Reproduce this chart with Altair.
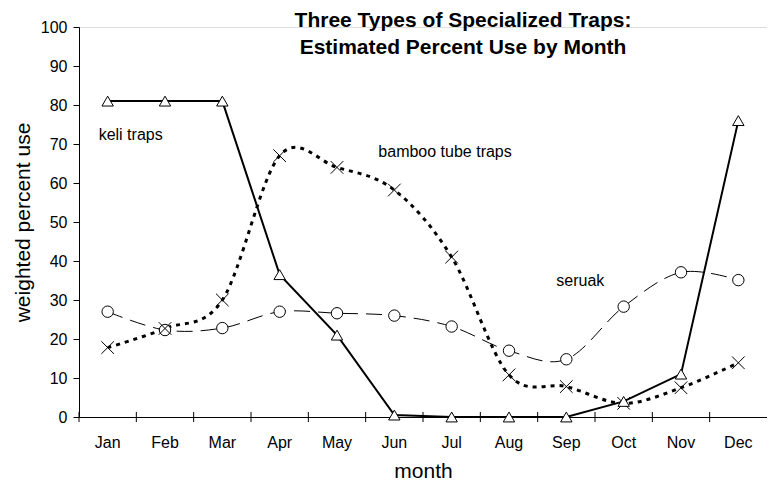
import altair as alt
import pandas as pd

months = ["Jan", "Feb", "Mar", "Apr", "May", "Jun", "Jul", "Aug", "Sep", "Oct", "Nov", "Dec"]
keli = [81, 81, 81, 36.5, 21, 0.5, 0, 0, 0, 4, 11, 76]
seruak = [27, 22.3, 22.8, 27, 26.6, 26, 23.2, 17, 14.8, 28.3, 37.1, 35.1]
bamboo = [17.8, 22.7, 30, 67, 64, 58.2, 41, 10.8, 7.8, 3.5, 7.5, 13.9]

label_text = ["keli traps", "bamboo tube traps", "seruak"]
label_month = ["Jan", "Jun", "Sep"]
label_value = [72.3, 67.9, 34.9]
label_dx = [-9, -16, -10]

y_ticks = list(range(0, 101, 10))

rows = []
for name, vals in [("keli", keli), ("seruak", seruak), ("bamboo", bamboo)]:
    for m, v in zip(months, vals):
        rows.append({"series": name, "month": m, "value": v})
long_df = pd.DataFrame(rows)
month_df = pd.DataFrame({"month": months})

FONT = "Liberation Sans"
xscale = alt.Scale(type="band", domain=months, paddingInner=0, paddingOuter=0)
yscale = alt.Scale(domain=[0, 100], nice=False)

x_axis = alt.Axis(ticks=False, labelAngle=0, labelPadding=17, labelFontSize=16,
                  titleFontSize=21, titleFontWeight="normal", titlePadding=10,
                  domainColor="black", labelColor="black", titleColor="black",
                  labelFont=FONT, titleFont=FONT, grid=False)
y_axis = alt.Axis(values=y_ticks, tickSize=6, tickColor="black", labelPadding=6,
                  labelFontSize=16, titleFontSize=21, titleFontWeight="normal",
                  titlePadding=7, domainColor="black", labelColor="black",
                  titleColor="black", labelFont=FONT, titleFont=FONT, grid=False,
                  labelOverlap=False)


def X(**kw):
    return alt.X("month:N", scale=xscale, sort=months, title="month", axis=x_axis, **kw)


def Y():
    return alt.Y("value:Q", scale=yscale, title="weighted percent use", axis=y_axis)


def series(name):
    return alt.Chart(long_df).transform_filter(alt.datum.series == name)


ticks = alt.Chart(month_df).mark_rule(color="black", strokeWidth=1).encode(
    x=X(bandPosition=0),
    y=alt.YDatum(-1.3, scale=yscale, title="weighted percent use", axis=y_axis),
    y2=alt.datum(1.3))

seruak_line = series("seruak").mark_line(
    color="black", strokeWidth=1, strokeDash=[16, 8], interpolate="cardinal", tension=0
).encode(x=X(), y=Y())
seruak_pts = series("seruak").mark_point(
    shape="circle", filled=True, fill="white", stroke="black", strokeWidth=1, size=130, opacity=1
).encode(x=X(), y=Y())

bamboo_line = series("bamboo").mark_line(
    color="black", strokeWidth=3, strokeDash=[4, 5], interpolate="cardinal", tension=0
).encode(x=X(), y=Y())
bamboo_pts = series("bamboo").mark_point(
    shape="M-1,-1L1,1M-1,1L1,-1", filled=False, stroke="black", strokeWidth=1, size=160, opacity=1
).encode(x=X(), y=Y())

keli_line = series("keli").mark_line(
    color="black", strokeWidth=2, interpolate="linear"
).encode(x=X(), y=Y())
keli_pts = series("keli").mark_point(
    shape="triangle-up", filled=True, fill="white", stroke="black", strokeWidth=1, size=130, opacity=1
).encode(x=X(), y=Y())

texts = []
for t, m, v, dx in zip(label_text, label_month, label_value, label_dx):
    texts.append(
        alt.Chart(pd.DataFrame({"text": [t], "month": [m], "value": [v]})).mark_text(
            align="left", baseline="middle", fontSize=16, font=FONT, color="black", dx=dx
        ).encode(x=X(), y=Y(), text="text:N")
    )

chart = alt.layer(
    ticks, seruak_line, bamboo_line, keli_line, seruak_pts, bamboo_pts, keli_pts, *texts
).properties(
    width=688, height=390,
    autosize=alt.AutoSizeParams(type="none"),
    padding={"left": 71, "top": 19, "right": 0, "bottom": 64},
    title=alt.TitleParams(
        ["Three Types of Specialized Traps:", "Estimated Percent Use by Month"],
        fontSize=21, font=FONT, fontWeight="bold", anchor="middle", dx=40,
        baseline="alphabetic", offset=-56, lineHeight=27, color="black"),
).configure_view(stroke=None).configure(background="white")

chart.save("out.html", embed_options={"renderer": "svg", "actions": False})
